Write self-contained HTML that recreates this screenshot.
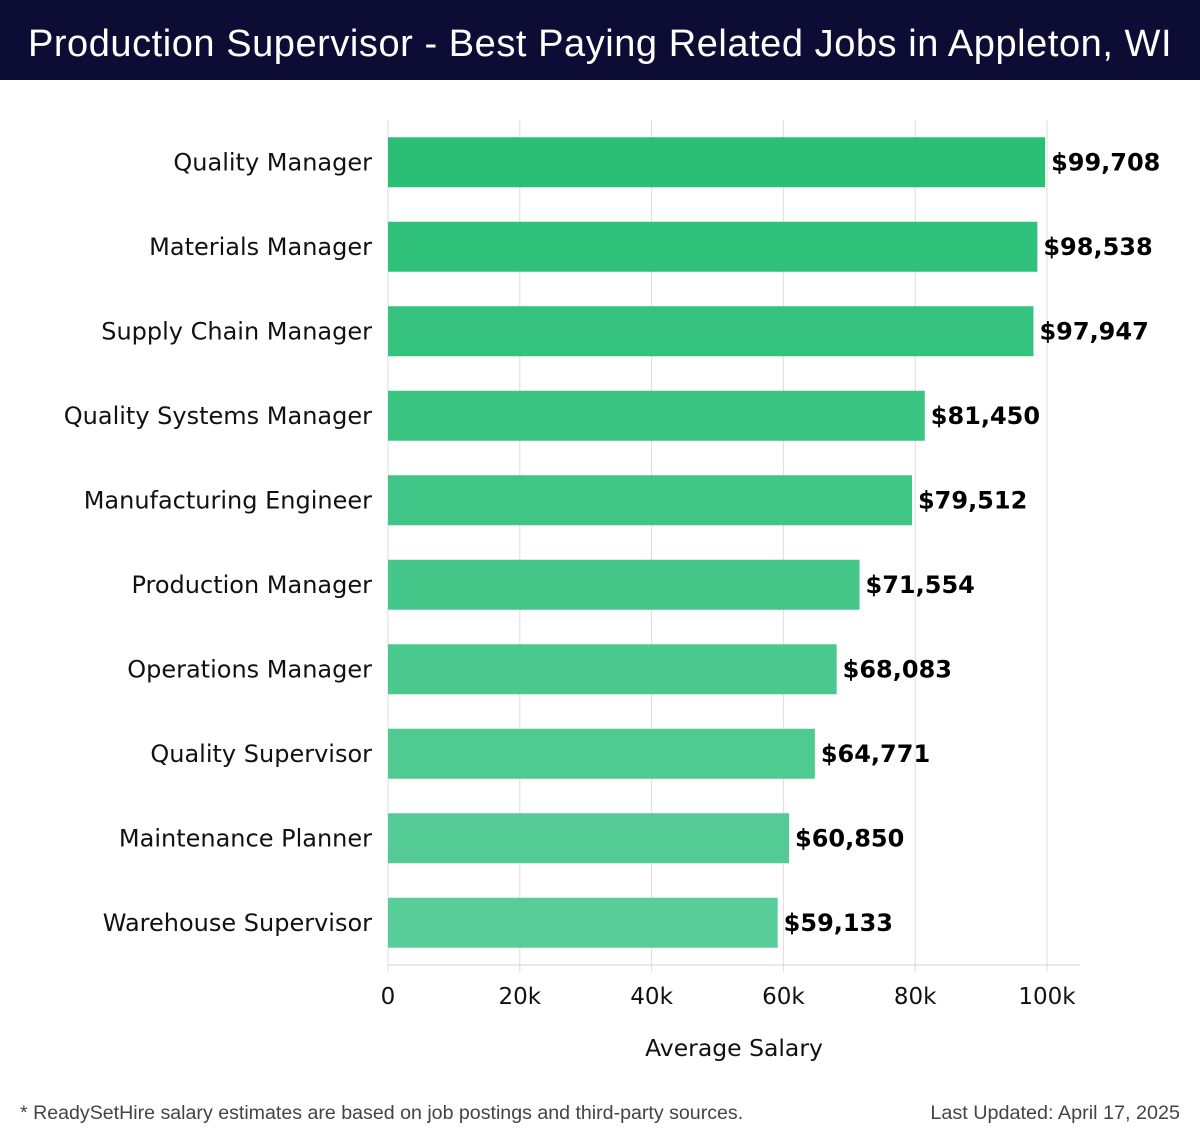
<!DOCTYPE html>
<html><head><meta charset="utf-8"><style>
body{margin:0;width:1200px;height:1140px;background:#fff;overflow:hidden;font-family:"DejaVu Sans","Liberation Sans",sans-serif}
#title{position:absolute;left:0;top:0;width:1200px;height:80px;background:#0c0c35;color:#fff;font-family:"Liberation Sans",sans-serif;font-size:38px;letter-spacing:0.55px;line-height:88px;text-align:center;font-weight:300}
svg{position:absolute;left:0;top:0}
</style></head><body>
<div id="title">Production Supervisor - Best Paying Related Jobs in Appleton, WI</div>
<svg id="chart" width="1200" height="1140"></svg>
<script>
const categories=["Quality Manager","Materials Manager","Supply Chain Manager","Quality Systems Manager","Manufacturing Engineer","Production Manager","Operations Manager","Quality Supervisor","Maintenance Planner","Warehouse Supervisor"];
const salaries=[99708,98538,97947,81450,79512,71554,68083,64771,60850,59133];
const valueLabels=["$99,708","$98,538","$97,947","$81,450","$79,512","$71,554","$68,083","$64,771","$60,850","$59,133"];
const ticks=[0,20000,40000,60000,80000,100000];
const tickLabels=["0","20k","40k","60k","80k","100k"];
const NS="http://www.w3.org/2000/svg",svg=document.getElementById('chart');
const x0=388,x1=1047,top0=120,bottom=965,band=(bottom-top0)/categories.length;
const xs=v=>x0+(x1-x0)*v/100000;
const yc=i=>top0+band*(i+0.5);
function mk(t,a,p){const e=document.createElementNS(NS,t);for(const k in a)e.setAttribute(k,a[k]);(p||svg).appendChild(e);return e;}
ticks.forEach((t,i)=>{
 const g=mk('line',{x1:xs(t),x2:xs(t),y1:top0,y2:972,stroke:'#dcdcdc','stroke-width':1});
 
 
 const tx=mk('text',{x:xs(t),y:1004,'text-anchor':'middle','font-size':23,fill:'#111'});
 tx.textContent=tickLabels[i];
 
 
});
const ax=mk('line',{x1:x0,x2:1080,y1:965,y2:965,stroke:'#d0d0d0'});


const lo=[43,191,118],hi=[89,205,153];
categories.forEach((c,i)=>{
 const f=i/(categories.length-1);
 const col=`rgb(${lo.map((v,k)=>Math.round(v+(hi[k]-v)*f)).join(',')})`;
 const r=mk('rect',{x:x0,y:yc(i)-25,width:xs(salaries[i])-x0,height:50,fill:col});
 
 
 const l=mk('text',{x:372,y:yc(i)+8,'text-anchor':'end','font-size':24,fill:'#111'});
 l.textContent=c;
 
 
 const v=mk('text',{x:xs(salaries[i])+6,y:yc(i)+8,'font-size':24,'font-weight':'bold',fill:'#000'});
 v.textContent=valueLabels[i];
 
 
});
const at=mk('text',{x:734,y:1056,'text-anchor':'middle','font-size':23.5,fill:'#111'});
at.textContent="Average Salary";


const fn=mk('text',{x:20,y:1119,'font-size':19.6,fill:'#444','font-family':'Liberation Sans, sans-serif'});
fn.textContent="* ReadySetHire salary estimates are based on job postings and third-party sources.";


const up=mk('text',{x:1180,y:1119,'text-anchor':'end','font-size':19.8,fill:'#444','font-family':'Liberation Sans, sans-serif'});
up.textContent="Last Updated: April 17, 2025";


</script>
</body></html>
